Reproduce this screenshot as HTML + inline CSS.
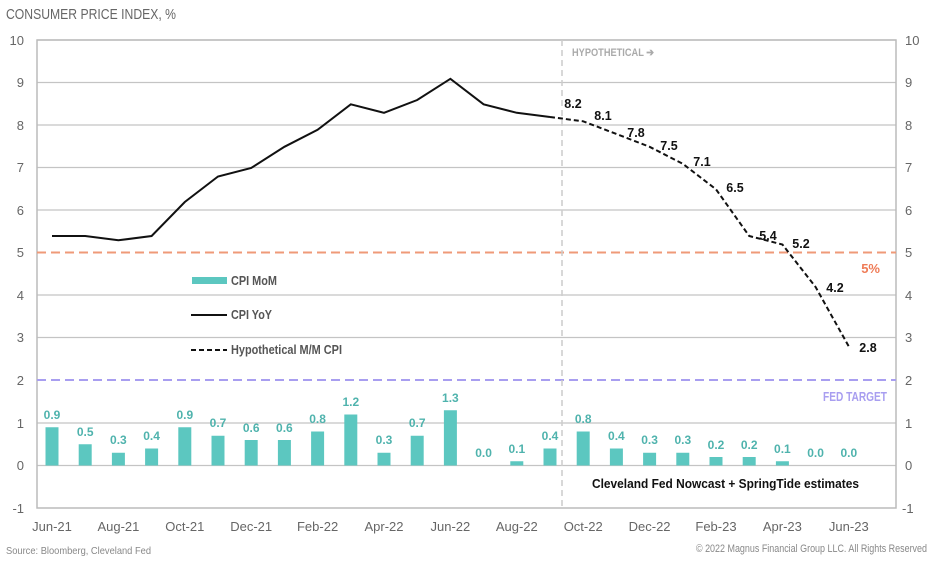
<!DOCTYPE html>
<html><head><meta charset="utf-8"><style>
body{margin:0;background:#fff}
svg{display:block;font-family:"Liberation Sans Narrow","Liberation Sans",sans-serif}
.t{fill:#666;font-size:13px}
.b{fill:#5cc7c0}
.bl{fill:#4fb3ad;font-size:12px;font-weight:bold;text-anchor:middle}
.hl{fill:#111;font-size:12.5px;font-weight:bold;text-anchor:middle}
</style></head><body>
<svg width="935" height="561" viewBox="0 0 935 561">
<text x="6" y="19" fill="#666" font-size="15" textLength="170" lengthAdjust="spacingAndGlyphs">CONSUMER PRICE INDEX, %</text>
<g stroke="#c4c4c4" stroke-width="1.2">
<line x1="37" y1="40" x2="896" y2="40"/><line x1="37" y1="82.5" x2="896" y2="82.5"/><line x1="37" y1="125" x2="896" y2="125"/><line x1="37" y1="167.5" x2="896" y2="167.5"/><line x1="37" y1="210" x2="896" y2="210"/><line x1="37" y1="295" x2="896" y2="295"/><line x1="37" y1="337.5" x2="896" y2="337.5"/><line x1="37" y1="423" x2="896" y2="423"/><line x1="37" y1="465.5" x2="896" y2="465.5"/>
</g>
<rect x="37" y="40" width="859" height="468" fill="none" stroke="#bbb" stroke-width="1.5"/>
<line x1="37" y1="252.5" x2="896" y2="252.5" stroke="#ef9a78" stroke-width="2" stroke-dasharray="9,5"/>
<line x1="37" y1="380" x2="896" y2="380" stroke="#a89ef0" stroke-width="2" stroke-dasharray="9,5"/>
<line x1="562" y1="40" x2="562" y2="508" stroke="#ccc" stroke-width="1.5" stroke-dasharray="6,4"/>
<text x="572" y="56" fill="#aaa" font-size="11" font-weight="bold" textLength="82" lengthAdjust="spacingAndGlyphs">HYPOTHETICAL ➔</text>
<text x="880" y="273" fill="#ef7b56" font-size="13" font-weight="bold" text-anchor="end">5%</text>
<text x="887" y="401" fill="#a89ef0" font-size="13" font-weight="bold" text-anchor="end" textLength="64" lengthAdjust="spacingAndGlyphs">FED TARGET</text>
<g class="t" text-anchor="end">
<text x="24" y="45">10</text><text x="24" y="87">9</text><text x="24" y="130">8</text><text x="24" y="172">7</text><text x="24" y="215">6</text><text x="24" y="257">5</text><text x="24" y="300">4</text><text x="24" y="342">3</text><text x="24" y="385">2</text><text x="24" y="428">1</text><text x="24" y="470">0</text><text x="24" y="513">-1</text>
</g>
<g class="t">
<text x="905" y="45">10</text><text x="905" y="87">9</text><text x="905" y="130">8</text><text x="905" y="172">7</text><text x="905" y="215">6</text><text x="905" y="257">5</text><text x="905" y="300">4</text><text x="905" y="342">3</text><text x="905" y="385">2</text><text x="905" y="428">1</text><text x="905" y="470">0</text><text x="902" y="513">-1</text>
</g>
<g class="t" text-anchor="middle" font-size="12.5">
<text x="52" y="531">Jun-21</text><text x="118.4" y="531">Aug-21</text><text x="184.8" y="531">Oct-21</text><text x="251.2" y="531">Dec-21</text><text x="317.6" y="531">Feb-22</text><text x="384" y="531">Apr-22</text><text x="450.4" y="531">Jun-22</text><text x="516.8" y="531">Aug-22</text><text x="583.2" y="531">Oct-22</text><text x="649.6" y="531">Dec-22</text><text x="716" y="531">Feb-23</text><text x="782.4" y="531">Apr-23</text><text x="848.8" y="531">Jun-23</text>
</g>
<g class="b">
<rect x="45.5" y="427.25" width="13" height="38.25"/>
<rect x="78.7" y="444.25" width="13" height="21.25"/>
<rect x="111.9" y="452.75" width="13" height="12.75"/>
<rect x="145.1" y="448.5" width="13" height="17"/>
<rect x="178.3" y="427.25" width="13" height="38.25"/>
<rect x="211.5" y="435.75" width="13" height="29.75"/>
<rect x="244.7" y="440" width="13" height="25.5"/>
<rect x="277.9" y="440" width="13" height="25.5"/>
<rect x="311.1" y="431.5" width="13" height="34"/>
<rect x="344.3" y="414.5" width="13" height="51"/>
<rect x="377.5" y="452.75" width="13" height="12.75"/>
<rect x="410.7" y="435.75" width="13" height="29.75"/>
<rect x="443.9" y="410.25" width="13" height="55.25"/>
<rect x="510.3" y="461.25" width="13" height="4.25"/>
<rect x="543.5" y="448.5" width="13" height="17"/>
<rect x="576.7" y="431.5" width="13" height="34"/>
<rect x="609.9" y="448.5" width="13" height="17"/>
<rect x="643.1" y="452.75" width="13" height="12.75"/>
<rect x="676.3" y="452.75" width="13" height="12.75"/>
<rect x="709.5" y="457" width="13" height="8.5"/>
<rect x="742.7" y="457" width="13" height="8.5"/>
<rect x="775.9" y="461.25" width="13" height="4.25"/>
</g>
<g class="bl">
<text x="52" y="419">0.9</text><text x="85.2" y="436">0.5</text><text x="118.4" y="444">0.3</text><text x="151.6" y="440">0.4</text><text x="184.8" y="419">0.9</text><text x="218" y="427">0.7</text><text x="251.2" y="432">0.6</text><text x="284.4" y="432">0.6</text><text x="317.6" y="423">0.8</text><text x="350.8" y="406">1.2</text><text x="384" y="444">0.3</text><text x="417.2" y="427">0.7</text><text x="450.4" y="402">1.3</text><text x="483.6" y="457">0.0</text><text x="516.8" y="453">0.1</text><text x="550" y="440">0.4</text><text x="583.2" y="423">0.8</text><text x="616.4" y="440">0.4</text><text x="649.6" y="444">0.3</text><text x="682.8" y="444">0.3</text><text x="716" y="449">0.2</text><text x="749.2" y="449">0.2</text><text x="782.4" y="453">0.1</text><text x="815.6" y="457">0.0</text><text x="848.8" y="457">0.0</text>
</g>
<polyline fill="none" stroke="#111" stroke-width="2" points="52,236 85.2,236 118.4,240.3 151.6,236 184.8,202 218,176.5 251.2,168 284.4,146.8 317.6,129.8 350.8,104.3 384,112.8 417.2,100 450.4,78.8 483.6,104.3 516.8,112.8 550,117"/>
<polyline fill="none" stroke="#111" stroke-width="2" stroke-dasharray="5,3" points="550,117 583.2,121.3 616.4,134 649.6,146.8 682.8,163.8 716,189.3 749.2,236 782.4,244.5 815.6,287 848.8,346.5"/>
<g class="hl">
<text x="573" y="108">8.2</text><text x="603" y="120">8.1</text><text x="636" y="137">7.8</text><text x="669" y="150">7.5</text><text x="702" y="166">7.1</text><text x="735" y="192">6.5</text><text x="768" y="240">5.4</text><text x="801" y="248">5.2</text><text x="835" y="292">4.2</text><text x="868" y="352">2.8</text>
</g>
<rect x="192" y="277" width="35" height="7" fill="#5cc7c0"/>
<text x="231" y="285" fill="#555" font-size="12.5" font-weight="bold" textLength="46" lengthAdjust="spacingAndGlyphs">CPI MoM</text>
<line x1="191" y1="315" x2="227" y2="315" stroke="#111" stroke-width="2"/>
<text x="231" y="319" fill="#555" font-size="12.5" font-weight="bold" textLength="41" lengthAdjust="spacingAndGlyphs">CPI YoY</text>
<line x1="191" y1="350" x2="227" y2="350" stroke="#111" stroke-width="2" stroke-dasharray="5,3"/>
<text x="231" y="354" fill="#555" font-size="12.5" font-weight="bold" textLength="111" lengthAdjust="spacingAndGlyphs">Hypothetical M/M CPI</text>
<text x="592" y="488" fill="#111" font-size="13" font-weight="bold" textLength="267" lengthAdjust="spacingAndGlyphs">Cleveland Fed Nowcast + SpringTide estimates</text>
<text x="6" y="554" fill="#888" font-size="10.5" textLength="145" lengthAdjust="spacingAndGlyphs">Source: Bloomberg, Cleveland Fed</text>
<text x="696" y="552" fill="#888" font-size="11" textLength="231" lengthAdjust="spacingAndGlyphs">© 2022 Magnus Financial Group LLC. All Rights Reserved</text>
</svg>
</body></html>
